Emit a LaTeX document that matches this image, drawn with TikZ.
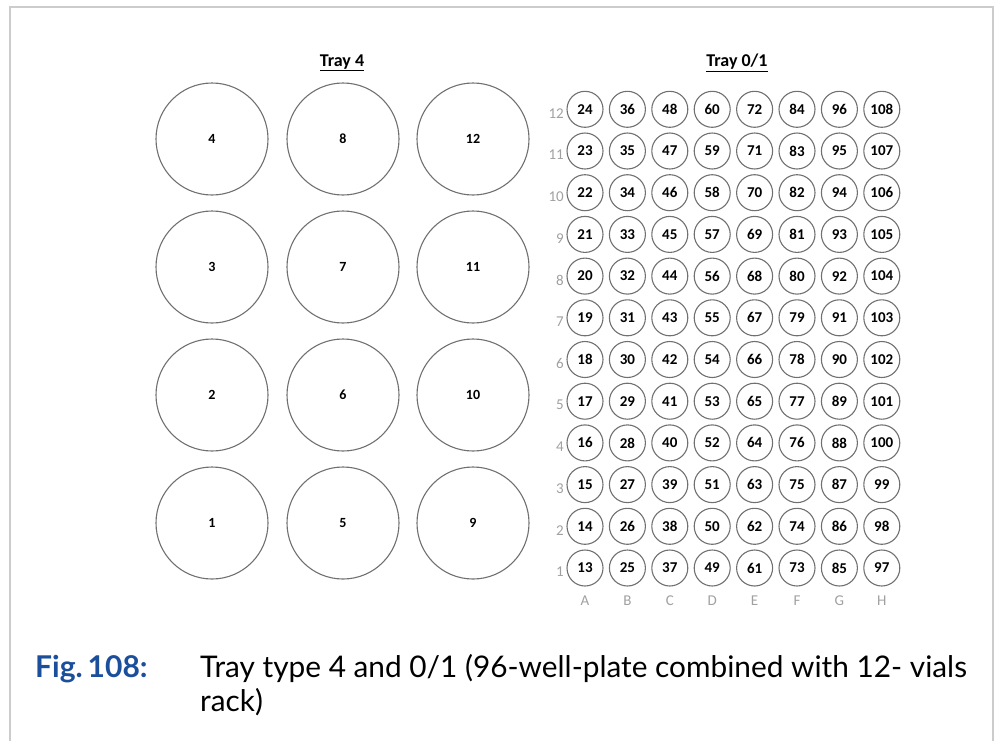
\documentclass[tikz,border=0pt]{standalone}
\usepackage{fontspec}
\setmainfont{Carlito}
\newfontfamily\capfont{Lato}
\definecolor{figblue}{HTML}{1B4F9B}
\definecolor{bordergray}{HTML}{CCCCCC}
\definecolor{ringgray}{HTML}{707070}
\definecolor{labgray}{HTML}{A0A0A0}
\begin{document}
\begin{tikzpicture}[x=1pt,y=-1pt,
  bigvial/.style={circle,draw=ringgray,line width=1.1pt,minimum size=112pt,inner sep=0pt,font=\fontsize{14}{16}\selectfont\bfseries},
  well/.style={circle,draw=ringgray,line width=1.1pt,minimum size=36pt,inner sep=0pt,font=\fontsize{15}{17}\selectfont\bfseries},
  rowlab/.style={anchor=east,text=labgray,inner sep=0pt,font=\fontsize{15}{17}\selectfont},
  collab/.style={text=labgray,inner sep=0pt,font=\fontsize{15}{17}\selectfont},
  title/.style={inner sep=0pt,font=\fontsize{18}{20}\selectfont\bfseries}]
\useasboundingbox (0,0) rectangle (998,740);
\draw[bordergray,line width=2pt] (10,745) -- (10,7) -- (993,7) -- (993,745);
\node[title] (t4) at (342,63) {\underline{Tray 4}};
\node[title] (t01) at (737,63) {\underline{Tray 0/1}};
\foreach \c/\x in {0/212,1/343,2/473}{
  \foreach \r/\y in {1/523,2/395,3/267,4/139}{
    \pgfmathtruncatemacro{\n}{\c*4+\r}
    \node[bigvial] (v\n) at (\x,\y) {\n};
  }
}
\foreach \c/\L in {0/A,1/B,2/C,3/D,4/E,5/F,6/G,7/H}{
  \pgfmathsetmacro{\xx}{585+\c*42.4}
  \foreach \r in {1,...,12}{
    \pgfmathsetmacro{\yy}{568-(\r-1)*41.7}
    \pgfmathtruncatemacro{\n}{12+\c*12+\r}
    \node[well] (w\L\r) at (\xx,\yy) {\n};
  }
  \node[collab] (c\L) at (\xx,601) {\L};
}
\foreach \r in {1,...,12}{
  \pgfmathsetmacro{\yy}{568-(\r-1)*41.7+4}
  \node[rowlab] (r\r) at (564,\yy) {\r};
}
\node[anchor=base west,inner sep=0pt,text=figblue,font=\capfont\fontsize{30}{34}\selectfont\bfseries] (fig) at (35,677) {Fig.\,108:};
\node[anchor=base west,inner sep=0pt,font=\capfont\fontsize{29.8}{34}\selectfont] (cap) at (200,677) {\parbox[t]{790pt}{\raggedright Tray type 4 and 0/1 (96-well-plate combined with 12- vials\\rack)}};
\end{tikzpicture}
\end{document}
